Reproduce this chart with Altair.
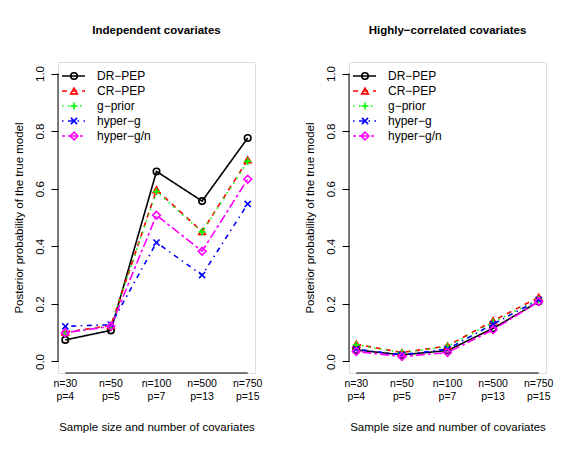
import altair as alt
import pandas as pd

FONT = "Liberation Sans"

categories_n = ["n=30", "n=50", "n=100", "n=500", "n=750"]
categories_p = ["p=4", "p=5", "p=7", "p=13", "p=15"]
series = ["DR\u2212PEP", "CR\u2212PEP", "g\u2212prior", "hyper\u2212g", "hyper\u2212g/n"]

indep = {
    "DR\u2212PEP":     [0.075, 0.108, 0.660, 0.557, 0.776],
    "CR\u2212PEP":     [0.102, 0.125, 0.596, 0.451, 0.700],
    "g\u2212prior":    [0.100, 0.125, 0.590, 0.450, 0.695],
    "hyper\u2212g":    [0.122, 0.128, 0.413, 0.300, 0.547],
    "hyper\u2212g/n":  [0.100, 0.122, 0.508, 0.383, 0.633],
}
corr = {
    "DR\u2212PEP":     [0.040, 0.023, 0.038, 0.115, 0.208],
    "CR\u2212PEP":     [0.060, 0.031, 0.054, 0.141, 0.223],
    "g\u2212prior":    [0.058, 0.030, 0.052, 0.136, 0.216],
    "hyper\u2212g":    [0.043, 0.023, 0.043, 0.130, 0.214],
    "hyper\u2212g/n":  [0.035, 0.017, 0.031, 0.110, 0.208],
}

colors = ["#000000", "#FF0000", "#00FF00", "#0000FF", "#FF00FF"]
dashes = [[1, 0], [5, 5], [1.5, 4.5], [1.5, 4.5, 5, 4.5], [3, 3, 9, 3]]
shapes = ["circle", "triangle-up", "M-1,0L1,0M0,-1L0,1", "M-1,-1L1,1M-1,1L1,-1", "diamond"]
sizes = [42, 45, 50, 38, 60]
LW = 1.6

W, H = 197, 311

xscale = alt.Scale(domain=[0.84, 5.16], nice=False, zero=False)
yscale = alt.Scale(domain=[-0.04, 1.04], nice=False, zero=False)


def panel(vals, title):
    rows = []
    for s in series:
        for i, v in enumerate(vals[s]):
            rows.append({"series": s, "idx": i + 1, "value": v})
    df = pd.DataFrame(rows)
    layers = []
    xenc = alt.X("idx:Q", scale=xscale,
                 axis=alt.Axis(labels=False, ticks=False, domain=False, grid=False,
                               title="Sample size and number of covariates",
                               titleFont=FONT, titleFontSize=11.5, titleFontWeight="normal",
                               titlePadding=48, titleColor="#000"))
    yenc = alt.Y("value:Q", scale=yscale,
                 axis=alt.Axis(values=[0, 0.2, 0.4, 0.6, 0.8, 1.0], format=".1f",
                               domain=False, grid=False, tickSize=7, tickColor="#000",
                               labelAngle=270, labelAlign="center", labelBaseline="bottom",
                               labelPadding=6, labelFont=FONT, labelFontSize=11.5, labelColor="#000",
                               title="Posterior probability of the true model",
                               titleFont=FONT, titleFontSize=11.5, titleFontWeight="normal",
                               titlePadding=10, titleColor="#000"))
    for k, s in enumerate(series):
        sub = df[df.series == s]
        base = alt.Chart(sub)
        layers.append(base.mark_line(color=colors[k], strokeWidth=LW, strokeDash=dashes[k]).encode(x=xenc, y=yenc))
        layers.append(base.mark_point(color=colors[k], strokeWidth=LW, filled=False, shape=shapes[k],
                                      size=sizes[k], opacity=1).encode(x="idx:Q", y="value:Q"))
    # axis lines
    layers.append(alt.Chart(pd.DataFrame({"a": [0]})).mark_rule(color="#000", strokeWidth=1).encode(
        x=alt.value(0), y=alt.Y(datum=0), y2=alt.Y2(datum=1)))
    layers.append(alt.Chart(pd.DataFrame({"a": [0]})).mark_rule(color="#000", strokeWidth=1).encode(
        y=alt.value(H), x=alt.X(datum=1), x2=alt.X2(datum=5)))
    # x labels
    lab = pd.DataFrame({"idx": [1, 2, 3, 4, 5], "n": categories_n, "p": categories_p})
    layers.append(alt.Chart(lab).mark_text(font=FONT, fontSize=10.5, baseline="middle", color="#000").encode(
        x="idx:Q", y=alt.value(H + 11), text="n:N"))
    layers.append(alt.Chart(lab).mark_text(font=FONT, fontSize=10.5, baseline="middle", color="#000").encode(
        x="idx:Q", y=alt.value(H + 24), text="p:N"))
    # legend
    for k, s in enumerate(series):
        ly = 14 + 15 * k
        one = alt.Chart(pd.DataFrame({"t": [s]}))
        layers.append(one.mark_rule(color=colors[k], strokeWidth=LW, strokeDash=dashes[k]).encode(
            x=alt.value(4), x2=alt.value(27), y=alt.value(ly)))
        layers.append(one.mark_point(color=colors[k], strokeWidth=LW, filled=False, shape=shapes[k],
                                     size=sizes[k], opacity=1).encode(x=alt.value(16), y=alt.value(ly)))
        layers.append(one.mark_text(font=FONT, fontSize=12, align="left", baseline="middle", color="#000").encode(
            x=alt.value(39), y=alt.value(ly), text="t:N"))
    return alt.layer(*layers).properties(
        width=W, height=H,
        title=alt.TitleParams(title, font=FONT, fontSize=11.5, fontWeight="bold", color="#000", offset=26))


chart = alt.hconcat(panel(indep, "Independent covariates"),
                    panel(corr, "Highly\u2212correlated covariates"),
                    spacing=94, bounds="flush").properties(
    padding={"left": 4, "top": 16, "right": 0, "bottom": 0},
).configure_view(stroke=None).configure(background="white")

chart.save("out.html", embed_options={"renderer": "svg", "actions": False})
